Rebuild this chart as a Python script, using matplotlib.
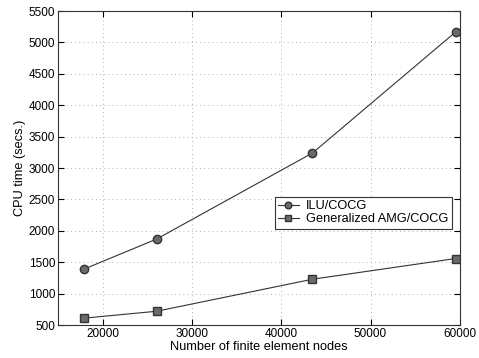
import matplotlib.pyplot as plt

nodes_ilu = [17900, 26050, 43500, 59550]
time_ilu = [1390, 1870, 3240, 5170]
nodes_amg = [17900, 26050, 43500, 59550]
time_amg = [610, 720, 1230, 1560]

plt.rcParams['font.family'] = ['Liberation Sans', 'DejaVu Sans']

fig = plt.figure(figsize=(4.79, 3.58), dpi=100)
ax = fig.add_axes([0.121, 0.092, 0.839, 0.877])

ax.plot(nodes_ilu, time_ilu, color='#333333', lw=0.8, marker='o', markersize=6,
        markerfacecolor='#6a6a6a', markeredgecolor='#333333', label='ILU/COCG')
ax.plot(nodes_amg, time_amg, color='#333333', lw=0.8, marker='s', markersize=5.5,
        markerfacecolor='#6a6a6a', markeredgecolor='#333333', label='Generalized AMG/COCG')

ax.set_xlim(15000, 60000)
ax.set_ylim(500, 5500)
ax.set_xticks([20000, 30000, 40000, 50000, 60000])
ax.set_yticks(range(500, 5501, 500))
ax.grid(True, linestyle=(0, (1, 4)), color='#999999', lw=0.6)
ax.tick_params(direction='in', top=True, right=True, labelsize=8.5, length=4, pad=2)
for s in ax.spines.values():
    s.set_color('#333333')

ax.set_xlabel('Number of finite element nodes', fontsize=9.2, labelpad=1)
ax.set_ylabel('CPU time (secs.)', fontsize=9.2, labelpad=2)

leg = ax.legend(loc='upper right', bbox_to_anchor=(0.98, 0.408), fontsize=9.2,
                fancybox=False, edgecolor='#333333', framealpha=1,
                handlelength=1.6, borderpad=0.25, labelspacing=0.1, handletextpad=0.6,
                borderaxespad=0, markerscale=0.8)
leg.get_frame().set_linewidth(0.8)

fig.savefig('out.png', dpi=100)
